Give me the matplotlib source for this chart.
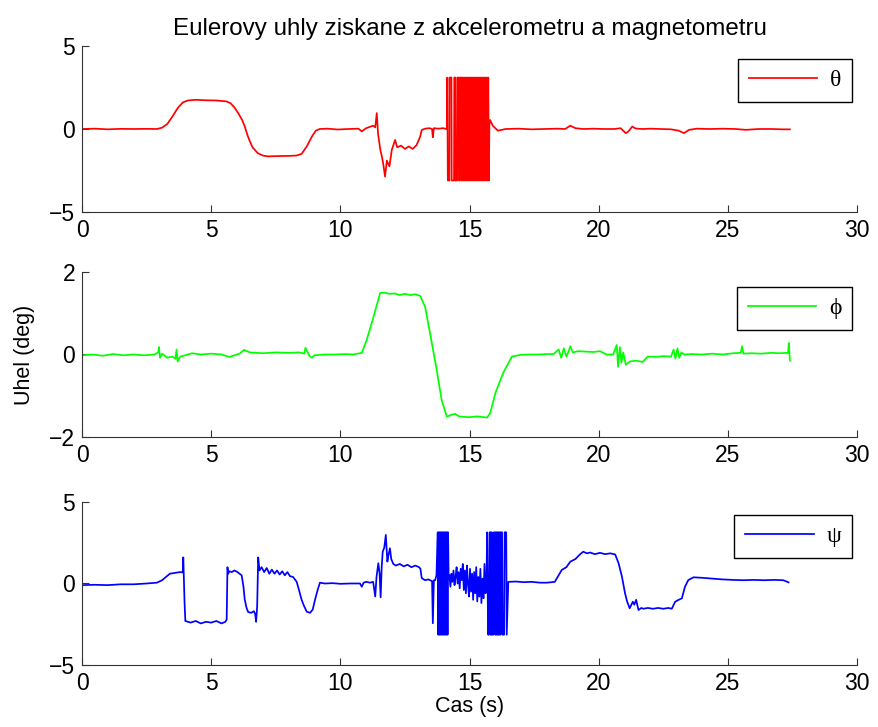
import matplotlib
matplotlib.use('Agg')
import matplotlib.pyplot as plt

plt.rcParams['font.family'] = ['Liberation Sans', 'DejaVu Sans']

# theta - pitch from accelerometer
theta_t = [0.0, 0.5, 1.0, 1.5, 2.0, 2.5, 2.9, 3.1, 3.3, 3.5,
           3.7, 3.9, 4.1, 4.4, 4.8, 5.2, 5.6, 5.75, 5.9, 6.05,
           6.2, 6.3, 6.4, 6.5, 6.6, 6.8, 7.0, 7.2, 7.6, 8.0,
           8.3, 8.5, 8.7, 8.9, 9.05, 9.2, 9.5, 9.9, 10.3, 10.7,
           10.83, 11.0, 11.27, 11.35, 11.41, 11.46, 11.55, 11.61, 11.67, 11.73,
           11.8, 11.9, 11.99, 12.12, 12.2, 12.35, 12.5, 12.65, 12.8, 12.95,
           13.09, 13.15, 13.28, 13.45, 13.55, 13.58, 13.62, 13.8, 13.98, 14.1,
           14.12, 14.14, 14.16, 14.22, 14.23, 14.3, 14.31, 14.4, 14.41, 14.45,
           14.46, 14.52, 14.53, 14.58, 14.59, 14.63, 14.64, 14.68, 14.7, 14.725,
           14.75, 14.775, 14.8, 14.825, 14.85, 14.875, 14.9, 14.925, 14.95, 14.975,
           15.0, 15.025, 15.05, 15.075, 15.1, 15.125, 15.15, 15.175, 15.2, 15.225,
           15.25, 15.275, 15.3, 15.325, 15.35, 15.375, 15.4, 15.425, 15.45, 15.475,
           15.5, 15.525, 15.55, 15.575, 15.6, 15.625, 15.65, 15.675, 15.7, 15.725,
           15.75, 15.77, 15.8, 15.9, 15.99, 16.1, 16.4, 16.9, 17.4, 17.9,
           18.4, 18.7, 18.9, 19.1, 19.4, 19.8, 20.2, 20.6, 20.85, 20.95,
           21.05, 21.15, 21.3, 21.4, 21.5, 21.7, 22.0, 22.4, 22.8, 23.1,
           23.3, 23.5, 23.8, 24.3, 24.8, 25.3, 25.7, 26.2, 26.7, 27.1,
           27.4]
theta_v = [0.0, 0.02, -0.02, 0.01, 0.0, 0.01, 0.0, 0.08, 0.3, 0.75,
           1.25, 1.6, 1.72, 1.76, 1.73, 1.72, 1.66, 1.55, 1.3, 0.95,
           0.54, 0.15, -0.35, -0.75, -1.1, -1.45, -1.6, -1.65, -1.63, -1.62,
           -1.6, -1.5, -1.05, -0.45, -0.1, 0.0, 0.02, -0.03, 0.0, 0.02,
           -0.14, 0.05, 0.2, 0.1, 0.96, -0.3, -1.27, -1.67, -2.2, -2.87,
           -1.9, -2.25, -1.27, -0.66, -1.1, -1.0, -1.2, -1.05, -1.2, -0.97,
           -0.46, -0.06, 0.02, 0.05, 0.0, -0.5, 0.05, 0.02, 0.05, 0.0,
           0.0, 3.1, -3.1, -3.1, 3.1, 3.1, -3.1, -3.1, 3.1, 3.1,
           -3.1, -3.1, 3.1, 3.1, -3.1, -3.1, 3.1, 3.1, -3.1, 3.1,
           -3.1, 3.1, -3.1, 3.1, -3.1, 3.1, -3.1, 3.1, -3.1, 3.1,
           -3.1, 3.1, -3.1, 3.1, -3.1, 3.1, -3.1, 3.1, -3.1, 3.1,
           -3.1, 3.1, -3.1, 3.1, -3.1, 3.1, -3.1, 3.1, -3.1, 3.1,
           -3.1, 3.1, -3.1, 3.1, -3.1, 3.1, -3.1, 3.1, -3.1, 3.1,
           -3.1, 0.3, 0.54, 0.2, 0.06, -0.1, 0.0, 0.02, -0.02, 0.0,
           0.02, 0.0, 0.2, 0.05, 0.0, 0.02, 0.0, 0.0, 0.05, -0.1,
           -0.25, -0.15, 0.15, 0.05, 0.02, 0.0, 0.02, 0.0, -0.02, -0.1,
           -0.25, -0.05, 0.02, 0.0, 0.02, 0.0, -0.05, 0.0, 0.0, -0.02,
           -0.02]

# phi - roll from accelerometer
phi_t = [0.0, 0.4, 0.8, 1.2, 1.6, 2.0, 2.4, 2.8, 2.95, 2.98,
         3.02, 3.1, 3.3, 3.5, 3.62, 3.66, 3.7, 3.8, 4.0, 4.26,
         4.6, 5.0, 5.4, 5.7, 5.9, 6.1, 6.27, 6.5, 7.0, 7.5,
         8.0, 8.4, 8.6, 8.65, 8.8, 8.9, 9.0, 9.4, 9.8, 10.2,
         10.5, 10.83, 11.02, 11.27, 11.54, 11.7, 11.9, 12.1, 12.3, 12.5,
         12.7, 12.9, 13.09, 13.28, 13.47, 13.73, 13.92, 14.12, 14.3, 14.44,
         14.6, 14.75, 15.0, 15.3, 15.68, 15.8, 16.0, 16.3, 16.64, 16.96,
         17.3, 17.7, 18.0, 18.25, 18.45, 18.55, 18.65, 18.75, 18.85, 18.9,
         19.0, 19.2, 19.5, 19.8, 20.05, 20.3, 20.56, 20.7, 20.75, 20.82,
         20.88, 20.95, 21.05, 21.2, 21.45, 21.7, 21.9, 22.2, 22.5, 22.8,
         22.9, 22.97, 23.05, 23.12, 23.2, 23.3, 23.6, 24.0, 24.4, 24.8,
         25.2, 25.5, 25.55, 25.6, 25.9, 26.3, 26.7, 27.0, 27.3, 27.33,
         27.36, 27.4]
phi_v = [-0.02, 0.0, -0.03, 0.01, -0.02, 0.0, -0.02, 0.0, 0.05, 0.18,
         -0.08, 0.02, -0.08, -0.05, -0.1, 0.12, -0.17, -0.05, -0.02, 0.03,
         0.0, 0.02, 0.0, -0.06, -0.02, 0.02, 0.11, 0.05, 0.03, 0.05,
         0.04, 0.05, 0.02, 0.16, -0.03, -0.08, -0.02, 0.0, 0.0, 0.01,
         0.0, 0.04, 0.35, 0.88, 1.49, 1.5, 1.47, 1.48, 1.44, 1.47,
         1.44, 1.46, 1.42, 1.16, 0.52, -0.37, -1.1, -1.51, -1.46, -1.44,
         -1.5, -1.51, -1.52, -1.5, -1.53, -1.42, -0.94, -0.45, -0.05, -0.01,
         0.0, 0.0, 0.01, 0.01, 0.12, -0.08, 0.15, -0.05, 0.1, 0.2,
         0.05, 0.08, 0.07, 0.06, 0.08, 0.0, 0.0, 0.23, -0.3, 0.18,
         -0.2, 0.05, -0.25, -0.17, -0.15, -0.18, -0.05, -0.06, -0.04, -0.05,
         0.12, -0.1, 0.15, -0.08, 0.05, 0.0, 0.01, 0.0, 0.02, 0.0,
         0.03, 0.04, 0.2, 0.02, 0.03, 0.02, 0.04, 0.03, 0.04, 0.03,
         0.28, -0.15]

# psi - yaw from magnetometer
psi_t = [0.0, 0.5, 1.0, 1.5, 2.0, 2.5, 2.9, 3.1, 3.25, 3.4,
         3.6, 3.8, 3.9, 3.92, 3.97, 4.0, 4.2, 4.4, 4.6, 4.8,
         5.0, 5.2, 5.4, 5.55, 5.6, 5.63, 5.66, 5.7, 5.8, 5.9,
         6.0, 6.1, 6.18, 6.25, 6.3, 6.37, 6.43, 6.55, 6.65, 6.7,
         6.74, 6.78, 6.82, 6.87, 6.95, 7.05, 7.15, 7.25, 7.35, 7.45,
         7.55, 7.65, 7.75, 7.85, 7.95, 8.05, 8.17, 8.31, 8.4, 8.5,
         8.6, 8.7, 8.83, 8.93, 9.02, 9.12, 9.21, 9.4, 9.7, 10.0,
         10.4, 10.76, 10.83, 10.9, 11.0, 11.15, 11.27, 11.35, 11.4, 11.47,
         11.52, 11.56, 11.6, 11.64, 11.7, 11.76, 11.82, 11.87, 11.92, 11.97,
         12.05, 12.15, 12.3, 12.45, 12.6, 12.75, 12.9, 13.05, 13.1, 13.15,
         13.28, 13.4, 13.55, 13.58, 13.62, 13.67, 13.72, 13.77, 13.79, 13.81,
         13.83, 13.85, 13.87, 13.89, 13.91, 13.93, 13.95, 13.97, 13.99, 14.01,
         14.03, 14.05, 14.07, 14.09, 14.11, 14.13, 14.15, 14.17, 14.19, 14.22,
         14.26, 14.3, 14.34, 14.38, 14.42, 14.46, 14.5, 14.54, 14.58, 14.62,
         14.66, 14.7, 14.74, 14.78, 14.82, 14.86, 14.9, 14.94, 14.98, 15.02,
         15.06, 15.1, 15.14, 15.18, 15.22, 15.26, 15.3, 15.34, 15.38, 15.42,
         15.46, 15.5, 15.54, 15.58, 15.62, 15.66, 15.68, 15.72, 15.74, 15.78,
         15.8, 15.82, 15.84, 15.86, 15.88, 15.92, 15.94, 15.98, 16.0, 16.02,
         16.04, 16.06, 16.08, 16.1, 16.12, 16.14, 16.16, 16.18, 16.2, 16.22,
         16.26, 16.28, 16.34, 16.36, 16.42, 16.44, 16.5, 16.8, 17.1, 17.4,
         17.73, 18.0, 18.3, 18.57, 18.75, 18.9, 19.1, 19.25, 19.4, 19.55,
         19.67, 19.85, 20.05, 20.25, 20.45, 20.64, 20.77, 20.9, 21.02, 21.1,
         21.2, 21.32, 21.38, 21.45, 21.54, 21.65, 21.73, 21.9, 22.1, 22.3,
         22.5, 22.7, 22.83, 22.96, 23.1, 23.22, 23.34, 23.47, 23.67, 24.0,
         24.4, 24.8, 25.2, 25.6, 26.0, 26.4, 26.8, 27.15, 27.35]
psi_v = [-0.1, -0.08, -0.1, -0.05, -0.05, 0.0, 0.05, 0.2, 0.4, 0.6,
         0.65, 0.7, 0.68, 1.6, -1.2, -2.3, -2.4, -2.3, -2.45, -2.35,
         -2.4, -2.3, -2.45, -2.35, -2.2, 1.0, 0.6, 0.75, 0.7, 0.8,
         0.72, 0.6, 0.5, -0.2, -1.0, -1.5, -1.75, -1.8, -1.7, -1.85,
         -2.35, -1.4, 1.6, 0.8, 1.0, 0.7, 0.95, 0.6, 0.85, 0.6,
         0.8, 0.55, 0.75, 0.5, 0.7, 0.45, 0.4, 0.1, -0.4, -1.0,
         -1.4, -1.73, -1.8, -1.6, -1.0, -0.4, 0.05, 0.0, 0.02, -0.02,
         0.0, 0.0, -0.2, 0.05, 0.1, 0.05, 0.1, -0.8, 0.4, 1.24,
         0.6, -0.85, 1.0, 1.95, 2.2, 2.98, 1.34, 1.8, 2.16, 1.5,
         1.2, 1.1, 1.2, 1.05, 1.15, 1.0, 1.1, 1.0, 0.9, 0.33,
         0.2, 0.25, 0.15, -2.44, 0.2, 0.2, 0.5, 3.14, -3.14, 3.14,
         -3.14, 3.14, -3.14, 3.14, -3.14, 3.14, -3.14, 3.14, -3.14, 3.14,
         -3.14, 3.14, -3.14, 3.14, -3.14, 3.14, -3.14, 3.14, 0.5, 0.5,
         -0.2, 0.6, 0.1, 0.8, -0.1, 0.4, 1.0, 0.0, 0.7, -0.3,
         0.9, 0.2, 1.2, -0.4, 0.8, -0.6, 1.1, 0.0, -0.8, 0.9,
         -0.5, 0.6, -1.0, 0.7, -0.6, 1.0, -1.1, 0.4, -0.8, 0.9,
         -1.2, 0.3, -0.9, 1.2, -0.6, 0.5, 3.14, -3.14, -3.14, 3.14,
         -3.14, 3.14, -3.14, 3.14, -3.14, -3.14, 3.14, 3.14, -3.14, 3.14,
         -3.14, 3.14, -3.14, 3.14, -3.14, 3.14, -3.14, 3.14, -3.14, 3.14,
         3.14, -3.14, -3.14, 3.14, 3.14, -3.14, 0.1, 0.12, 0.08, 0.1,
         0.05, 0.05, 0.1, 0.83, 1.0, 1.34, 1.5, 1.75, 1.95, 1.85,
         1.9, 1.8, 1.88, 1.8, 1.85, 1.78, 1.24, 0.42, -0.6, -1.1,
         -1.52, -1.12, -1.3, -1.0, -1.63, -1.5, -1.55, -1.5, -1.55, -1.5,
         -1.55, -1.5, -1.55, -1.12, -1.0, -0.91, -0.2, 0.21, 0.38, 0.35,
         0.3, 0.25, 0.22, 0.2, 0.22, 0.2, 0.22, 0.2, 0.07]

x_ticks = [0, 5, 10, 15, 20, 25, 30]

fig = plt.figure(figsize=(8.79, 7.27), dpi=100)
ax1 = fig.add_axes([0.0933, 0.7084, 0.8817, 0.2283])
ax2 = fig.add_axes([0.0933, 0.3989, 0.8817, 0.2270])
ax3 = fig.add_axes([0.0933, 0.0853, 0.8817, 0.2242])

panels = [
    (ax1, theta_t, theta_v, 'r', '\u03b8', (-5, 5), [-5, 0, 5], 0.922),
    (ax2, phi_t, phi_v, (0, 1, 0), '\u03d5', (-2, 2), [-2, 0, 2], 0.909),
    (ax3, psi_t, psi_v, 'b', '\u03c8', (-5, 5), [-5, 0, 5], 0.92),
]

for ax, t, v, col, lab, ylim, yt, ytop in panels:
    ax.plot(t, v, color=col, lw=1.25, label=lab)
    ax.set_xlim(0, 30)
    ax.set_ylim(*ylim)
    ax.set_xticks(x_ticks)
    ax.set_yticks(yt)
    ax.spines['top'].set_visible(False)
    ax.spines['right'].set_visible(False)
    for s in ('left', 'bottom'):
        ax.spines[s].set_color('#333333')
    ax.tick_params(direction='in', length=5, labelsize=16.5, pad=5, color='#333333')
    leg = ax.legend(loc='upper right', bbox_to_anchor=(0.9935, ytop),
                    prop={'family': ['Liberation Serif', 'DejaVu Serif'], 'size': 17},
                    fancybox=False, framealpha=1, edgecolor='black',
                    handlelength=2.9, handletextpad=0.55, borderpad=0.45,
                    borderaxespad=0)
    leg.get_frame().set_linewidth(1.0)

ax1.set_title('Eulerovy uhly ziskane z akcelerometru a magnetometru', fontsize=17.4, pad=8)
ax2.set_ylabel('Uhel (deg)', fontsize=15.5, labelpad=10)
ax3.set_xlabel('Cas (s)', fontsize=15.5, labelpad=1)

fig.savefig('out.png', dpi=100)
